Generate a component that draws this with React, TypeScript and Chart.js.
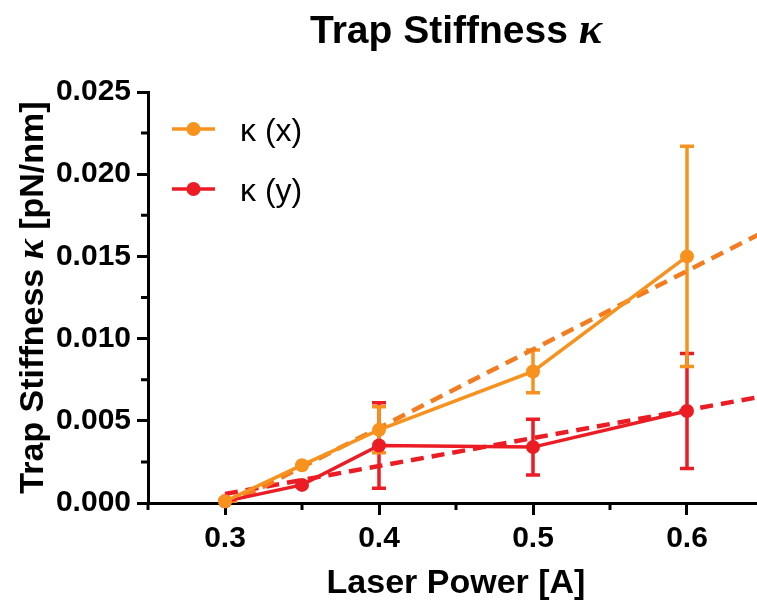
import React, { useEffect, useRef } from 'react';
import { Chart, registerables } from 'chart.js';

Chart.register(...registerables);

// ---- data ----
const powerLevels = [0.3, 0.35, 0.4, 0.5, 0.6];
const kappaX = [0.0001, 0.0023, 0.00445, 0.008, 0.015];
const kappaXErr = [0, 0, 0.0014, 0.0013, 0.0067];
const kappaY = [0.0001, 0.0011, 0.0035, 0.0034, 0.0056];
const kappaYErr = [0, 0, 0.0026, 0.0017, 0.0035];
const fitPower = [0.3, 0.65];
const fitKappaX = [-0.0002, 0.0165];
const fitKappaY = [0.00055, 0.0065];
const xTickLabels = ['0.3', '0.4', '0.5', '0.6'];
const yTickLabels = ['0.000', '0.005', '0.010', '0.015', '0.020', '0.025'];
const legendLabels = ['κ (x)', 'κ (y)'];
const titleText = 'Trap Stiffness ';
const kappaSymbol = 'κ';
const yTitleUnit = ' [pN/nm]';
const xTitleText = 'Laser Power [A]';

// ---- styles ----
const SANS = '"Liberation Sans", Arial, Helvetica, sans-serif';
const SERIF = '"Liberation Serif", "Times New Roman", serif';
const ORANGE = '#F7921E';
const ORANGE_FIT = '#F47C20';
const RED = '#EC1C24';

const matchLabel = (labels: string[], v: number) =>
  labels.find((l) => Math.abs(parseFloat(l) - v) < 1e-7);

const errorBarsPlugin = {
  id: 'errorBars',
  beforeDatasetsDraw(chart: any) {
    const { ctx } = chart;
    const xs = chart.scales.x;
    const ys = chart.scales.y;
    const series = [
      { vals: kappaY, errs: kappaYErr, color: RED },
      { vals: kappaX, errs: kappaXErr, color: ORANGE },
    ];
    ctx.save();
    ctx.lineWidth = 3.5;
    ctx.lineCap = 'butt';
    for (const s of series) {
      ctx.strokeStyle = s.color;
      powerLevels.forEach((p, i) => {
        const e = s.errs[i];
        if (!e) return;
        const px = xs.getPixelForValue(p);
        const top = ys.getPixelForValue(s.vals[i] + e);
        const bot = ys.getPixelForValue(s.vals[i] - e);
        ctx.beginPath();
        ctx.moveTo(px, top);
        ctx.lineTo(px, bot);
        ctx.moveTo(px - 7, top);
        ctx.lineTo(px + 7, top);
        ctx.moveTo(px - 7, bot);
        ctx.lineTo(px + 7, bot);
        ctx.stroke();
      });
    }
    ctx.restore();
  },
};

const decorPlugin = {
  id: 'decor',
  afterDraw(chart: any) {
    const { ctx, chartArea } = chart;
    const xs = chart.scales.x;
    const ys = chart.scales.y;
    ctx.save();

    // minor ticks
    ctx.strokeStyle = '#000';
    ctx.lineWidth = 3;
    ctx.beginPath();
    xs.ticks.forEach((t: any) => {
      if (matchLabel(xTickLabels, t.value)) return;
      const px = xs.getPixelForValue(t.value);
      ctx.moveTo(px, chartArea.bottom);
      ctx.lineTo(px, chartArea.bottom + 7);
    });
    ys.ticks.forEach((t: any) => {
      if (matchLabel(yTickLabels, t.value)) return;
      const py = ys.getPixelForValue(t.value);
      ctx.moveTo(chartArea.left, py);
      ctx.lineTo(chartArea.left - 7, py);
    });
    ctx.stroke();

    // chart title (mixed fonts)
    ctx.fillStyle = '#000';
    ctx.textBaseline = 'alphabetic';
    const tFont1 = `bold 39px ${SANS}`;
    const tFont2 = `italic bold 44px ${SERIF}`;
    ctx.font = tFont1;
    const w1 = ctx.measureText(titleText).width;
    ctx.font = tFont2;
    const w2 = ctx.measureText(kappaSymbol).width;
    const cx = (chartArea.left + chartArea.right) / 2;
    const tx = cx - (w1 + w2) / 2;
    ctx.textAlign = 'left';
    ctx.font = tFont1;
    ctx.fillText(titleText, tx, 43);
    ctx.font = tFont2;
    ctx.fillText(kappaSymbol, tx + w1, 43);

    // y axis title (rotated, mixed fonts)
    const yFont1 = `bold 34px ${SANS}`;
    const yFont2 = `italic bold 38px ${SERIF}`;
    ctx.font = yFont1;
    const a = ctx.measureText(titleText).width;
    const c = ctx.measureText(yTitleUnit).width;
    ctx.font = yFont2;
    const b = ctx.measureText(kappaSymbol).width;
    const total = a + b + c;
    const cy = (chartArea.top + chartArea.bottom) / 2;
    ctx.save();
    ctx.translate(43, cy);
    ctx.rotate(-Math.PI / 2);
    const x0 = -total / 2;
    ctx.font = yFont1;
    ctx.fillText(titleText, x0, 0);
    ctx.font = yFont2;
    ctx.fillText(kappaSymbol, x0 + a, 0);
    ctx.font = yFont1;
    ctx.fillText(yTitleUnit, x0 + a + b, 0);
    ctx.restore();

    // legend
    const legendItems = [
      { label: legendLabels[0], color: ORANGE, dy: 37 },
      { label: legendLabels[1], color: RED, dy: 97 },
    ];
    ctx.font = `32px ${SANS}`;
    for (const it of legendItems) {
      const ly = chartArea.top + it.dy;
      const lx = chartArea.left + 24;
      ctx.strokeStyle = it.color;
      ctx.lineWidth = 3.5;
      ctx.beginPath();
      ctx.moveTo(lx, ly);
      ctx.lineTo(lx + 43, ly);
      ctx.stroke();
      ctx.fillStyle = it.color;
      ctx.beginPath();
      ctx.arc(lx + 21.5, ly, 7, 0, Math.PI * 2);
      ctx.fill();
      ctx.fillStyle = '#000';
      ctx.fillText(it.label, chartArea.left + 92, ly + 12);
    }
    ctx.restore();
  },
};

export default function App() {
  const canvasRef = useRef<HTMLCanvasElement | null>(null);

  useEffect(() => {
    if (!canvasRef.current) return;
    const tickFont = { family: SANS, size: 30, weight: 'bold' as const };
    const chart = new Chart(canvasRef.current, {
      type: 'line',
      data: {
        datasets: [
          {
            label: legendLabels[0],
            data: powerLevels.map((p, i) => ({ x: p, y: kappaX[i] })),
            borderColor: ORANGE,
            backgroundColor: ORANGE,
            borderWidth: 3.5,
            pointRadius: 7,
            pointBorderWidth: 0,
            pointBackgroundColor: ORANGE,
            clip: false,
          },
          {
            label: legendLabels[1],
            data: powerLevels.map((p, i) => ({ x: p, y: kappaY[i] })),
            borderColor: RED,
            backgroundColor: RED,
            borderWidth: 3.5,
            pointRadius: 7,
            pointBorderWidth: 0,
            pointBackgroundColor: RED,
            clip: false,
          },
          {
            label: 'fit x',
            data: fitPower.map((p, i) => ({ x: p, y: fitKappaX[i] })),
            borderColor: ORANGE_FIT,
            borderWidth: 4.5,
            borderDash: [13, 8],
            pointRadius: 0,
            clip: 0,
          },
          {
            label: 'fit y',
            data: fitPower.map((p, i) => ({ x: p, y: fitKappaY[i] })),
            borderColor: RED,
            borderWidth: 4.5,
            borderDash: [13, 8],
            pointRadius: 0,
            clip: 0,
          },
        ],
      },
      options: {
        animation: false,
        responsive: true,
        maintainAspectRatio: false,
        layout: { padding: { left: 48, top: 92, right: 36, bottom: 0 } },
        plugins: {
          legend: { display: false },
          title: { display: false },
          tooltip: { enabled: false },
        },
        scales: {
          x: {
            type: 'linear',
            min: 0.25,
            max: 0.65,
            afterFit: (s: any) => {
              s.height = 105;
            },
            ticks: {
              stepSize: 0.05,
              autoSkip: false,
              maxRotation: 0,
              padding: 6,
              color: '#000',
              font: tickFont,
              callback: (v: any) => matchLabel(xTickLabels, Number(v)) ?? '',
            },
            grid: {
              drawOnChartArea: false,
              drawTicks: true,
              tickLength: 12,
              tickWidth: 3,
              tickColor: (ctx: any) =>
                ctx.tick && matchLabel(xTickLabels, ctx.tick.value) ? '#000' : 'rgba(0,0,0,0)',
            },
            border: { display: true, color: '#000', width: 3 },
            title: {
              display: true,
              text: xTitleText,
              color: '#000',
              font: { family: SANS, size: 34, weight: 'bold' },
              padding: { top: 0, bottom: 4 },
            },
          },
          y: {
            type: 'linear',
            min: 0,
            max: 0.025,
            afterFit: (s: any) => {
              s.width = 100;
            },
            ticks: {
              stepSize: 0.0025,
              autoSkip: false,
              padding: 6,
              color: '#000',
              font: tickFont,
              callback: (v: any) => matchLabel(yTickLabels, Number(v)) ?? '',
            },
            grid: {
              drawOnChartArea: false,
              drawTicks: true,
              tickLength: 11,
              tickWidth: 3,
              tickColor: (ctx: any) =>
                ctx.tick && matchLabel(yTickLabels, ctx.tick.value) ? '#000' : 'rgba(0,0,0,0)',
            },
            border: { display: true, color: '#000', width: 3 },
          },
        },
      },
      plugins: [errorBarsPlugin, decorPlugin],
    } as any);
    return () => chart.destroy();
  }, []);

  return (
    <div
      style={{
        position: 'fixed',
        left: 0,
        top: 0,
        width: 757,
        height: 608,
        overflow: 'hidden',
        background: '#fff',
      }}
    >
      <div style={{ position: 'relative', width: 800, height: 608 }}>
        <canvas ref={canvasRef} />
      </div>
    </div>
  );
}
